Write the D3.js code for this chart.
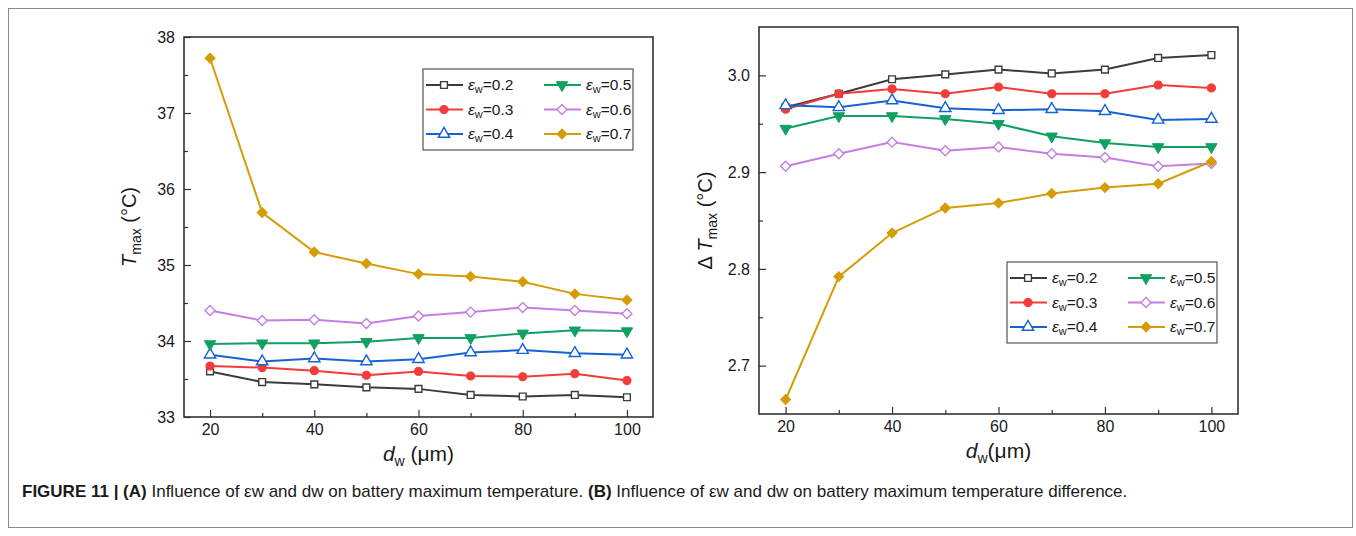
<!DOCTYPE html>
<html>
<head>
<meta charset="utf-8">
<script src="https://cdn.jsdelivr.net/npm/d3@7"></script>
<style>
  body { margin: 0; background: #fff; }
  svg text { font-family: "Liberation Sans", Arial, sans-serif; fill: #1a1a1a; }
</style>
</head>
<body>
<svg id="chart"></svg>
<script>
// d_w values (um) along the x axis
const dwValues = [20, 30, 40, 50, 60, 70, 80, 90, 100];
const epsLabels = ['0.2', '0.3', '0.4', '0.5', '0.6', '0.7'];

// (A) maximum temperature, degC
const tmax02 = [33.60, 33.46, 33.43, 33.39, 33.37, 33.29, 33.27, 33.29, 33.26];
const tmax03 = [33.67, 33.65, 33.61, 33.55, 33.60, 33.54, 33.53, 33.57, 33.48];
const tmax04 = [33.82, 33.73, 33.77, 33.73, 33.76, 33.85, 33.88, 33.84, 33.82];
const tmax05 = [33.96, 33.97, 33.97, 33.99, 34.04, 34.04, 34.10, 34.14, 34.13];
const tmax06 = [34.40, 34.27, 34.28, 34.23, 34.33, 34.38, 34.44, 34.40, 34.36];
const tmax07 = [37.72, 35.69, 35.17, 35.02, 34.88, 34.85, 34.78, 34.62, 34.54];

// (B) maximum temperature difference, degC
const dt02 = [2.967, 2.981, 2.996, 3.001, 3.006, 3.002, 3.006, 3.018, 3.021];
const dt03 = [2.965, 2.981, 2.986, 2.981, 2.988, 2.981, 2.981, 2.990, 2.987];
const dt04 = [2.969, 2.967, 2.974, 2.966, 2.964, 2.965, 2.963, 2.954, 2.955];
const dt05 = [2.945, 2.958, 2.958, 2.955, 2.950, 2.937, 2.930, 2.926, 2.926];
const dt06 = [2.906, 2.919, 2.931, 2.922, 2.926, 2.919, 2.915, 2.906, 2.909];
const dt07 = [2.665, 2.792, 2.837, 2.863, 2.868, 2.878, 2.884, 2.888, 2.911];

const dwTicks = [20, 40, 60, 80, 100];
const dwMinor = [30, 50, 70, 90];
const tmaxTicks = [33, 34, 35, 36, 37, 38];
const tmaxMinor = [33.5, 34.5, 35.5, 36.5, 37.5];
const dtTicks = [2.7, 2.8, 2.9, 3.0];
const dtMinor = [2.75, 2.85, 2.95];

const seriesColors = ['#3c3c3c', '#f23b3b', '#1462d6', '#10a061', '#c47fe4', '#d49c06'];
const seriesMarkers = ['squareOpen', 'circle', 'triangleOpen', 'triangleDown', 'diamondOpen', 'diamond'];

const width = 1356;
const height = 536;

const svg = d3.select('#chart')
  .attr('width', width)
  .attr('height', height);

// outer figure frame
svg.append('rect')
  .attr('x', 8.5).attr('y', 8.5)
  .attr('width', 1344).attr('height', 519)
  .attr('fill', 'none')
  .attr('stroke', '#8a8a8a')
  .attr('stroke-width', 1);

const drawMarker = (g, kind, color, x, y) => {
  const open = kind.endsWith('Open');
  let type = d3.symbolSquare, size = 46, rot = 0;
  if (kind === 'circle') { type = d3.symbolCircle; size = 52; }
  if (kind.startsWith('triangle')) { type = d3.symbolTriangle; size = 56; }
  if (kind === 'triangleDown') rot = 180;
  if (kind.startsWith('diamond')) { size = 50; rot = 45; }
  g.append('path')
    .attr('d', d3.symbol(type, size)())
    .attr('transform', `translate(${x},${y}) rotate(${rot})`)
    .attr('fill', open ? '#fff' : color)
    .attr('stroke', color)
    .attr('stroke-width', open ? 1.4 : 1);
}

const drawPanel = (p) => {
  const x = d3.scaleLinear().domain([15, 105]).range([p.left, p.right]);
  const y = d3.scaleLinear().domain(p.yDomain).range([p.bottom, p.top]);
  const g = svg.append('g');

  // inward ticks, Origin style
  g.append('g')
    .attr('transform', `translate(0,${p.bottom})`)
    .call(d3.axisBottom(x).tickValues(dwTicks).tickSizeInner(-7).tickSizeOuter(0).tickPadding(7));
  g.append('g')
    .attr('transform', `translate(0,${p.bottom})`)
    .call(d3.axisBottom(x).tickValues(dwMinor).tickSizeInner(-4).tickSizeOuter(0).tickFormat(''));
  g.append('g')
    .attr('transform', `translate(${p.left},0)`)
    .call(d3.axisLeft(y).tickValues(p.ticks).tickSizeInner(-7).tickSizeOuter(0).tickPadding(9).tickFormat(p.format));
  g.append('g')
    .attr('transform', `translate(${p.left},0)`)
    .call(d3.axisLeft(y).tickValues(p.minor).tickSizeInner(-4).tickSizeOuter(0).tickFormat(''));

  g.selectAll('.domain').remove();
  g.selectAll('.tick line').attr('stroke', '#333').attr('stroke-width', 1.2);
  g.selectAll('.tick text').style('font-size', '16px').attr('fill', '#1a1a1a');

  g.append('rect')
    .attr('x', p.left).attr('y', p.top)
    .attr('width', p.right - p.left).attr('height', p.bottom - p.top)
    .attr('fill', 'none').attr('stroke', '#333').attr('stroke-width', 1.6);

  const line = d3.line()
    .x((d, i) => x(dwValues[i]))
    .y(d => y(d));

  p.series.forEach((vals, s) => {
    g.append('path')
      .attr('d', line(vals))
      .attr('fill', 'none')
      .attr('stroke', seriesColors[s])
      .attr('stroke-width', 2);
  });
  p.series.forEach((vals, s) => {
    vals.forEach((v, i) => drawMarker(g, seriesMarkers[s], seriesColors[s], x(dwValues[i]), y(v)));
  });

  // axis titles
  const xt = g.append('text')
    .attr('x', (p.left + p.right) / 2)
    .attr('y', p.bottom + 44)
    .attr('text-anchor', 'middle')
    .style('font-size', '21px');
  xt.append('tspan').style('font-style', 'italic').text('d');
  xt.append('tspan').style('font-size', '14px').attr('dy', 5).text('w');
  xt.append('tspan').attr('dy', -5).text(p.xSpace ? ' (μm)' : '(μm)');

  const yt = g.append('text')
    .attr('transform', `translate(${p.titleX},${(p.top + p.bottom) / 2}) rotate(-90)`)
    .attr('text-anchor', 'middle')
    .style('font-size', '20px');
  if (p.delta) yt.append('tspan').text('Δ ');
  yt.append('tspan').style('font-style', 'italic').text('T');
  yt.append('tspan').style('font-size', '14px').attr('dy', 5).text('max');
  yt.append('tspan').attr('dy', -5).text(' (°C)');

  // legend
  const lg = g.append('g').attr('transform', `translate(${p.legend[0]},${p.legend[1]})`);
  lg.append('rect')
    .attr('width', 210).attr('height', 81)
    .attr('fill', '#fff').attr('stroke', '#555').attr('stroke-width', 1.2);
  epsLabels.forEach((lab, s) => {
    const cx = s < 3 ? 0 : 118;
    const cy = 16 + (s % 3) * 24.5;
    lg.append('line')
      .attr('x1', cx + 3).attr('x2', cx + 40)
      .attr('y1', cy).attr('y2', cy)
      .attr('stroke', seriesColors[s]).attr('stroke-width', 2);
    drawMarker(lg, seriesMarkers[s], seriesColors[s], cx + 21, cy);
    const t = lg.append('text')
      .attr('x', cx + 45).attr('y', cy + 5)
      .style('font-size', '15.5px');
    t.append('tspan').style('font-style', 'italic').text('ε');
    t.append('tspan').style('font-size', '11px').attr('dy', 3).text('w');
    t.append('tspan').attr('dy', -3).text('=' + lab);
  });
}

drawPanel({
  left: 184, right: 653, top: 37, bottom: 417,
  yDomain: [33, 38], ticks: tmaxTicks, minor: tmaxMinor, format: d3.format('d'),
  series: [tmax02, tmax03, tmax04, tmax05, tmax06, tmax07],
  titleX: 136, delta: false, xSpace: true, legend: [423, 69]
});

drawPanel({
  left: 759, right: 1238, top: 27, bottom: 414,
  yDomain: [2.65, 3.05], ticks: dtTicks, minor: dtMinor, format: d3.format('.1f'),
  series: [dt02, dt03, dt04, dt05, dt06, dt07],
  titleX: 712, delta: true, xSpace: false, legend: [1007, 262]
});

// caption
const cap = svg.append('text')
  .attr('x', 22).attr('y', 497)
  .style('font-size', '17px')
  .attr('fill', '#1a1a1a');
cap.append('tspan').style('font-weight', 'bold').text('FIGURE 11 | (A)');
cap.append('tspan').text(' Influence of εw and dw on battery maximum temperature. ');
cap.append('tspan').style('font-weight', 'bold').text('(B)');
cap.append('tspan').text(' Influence of εw and dw on battery maximum temperature difference.');
</script>
</body>
</html>
